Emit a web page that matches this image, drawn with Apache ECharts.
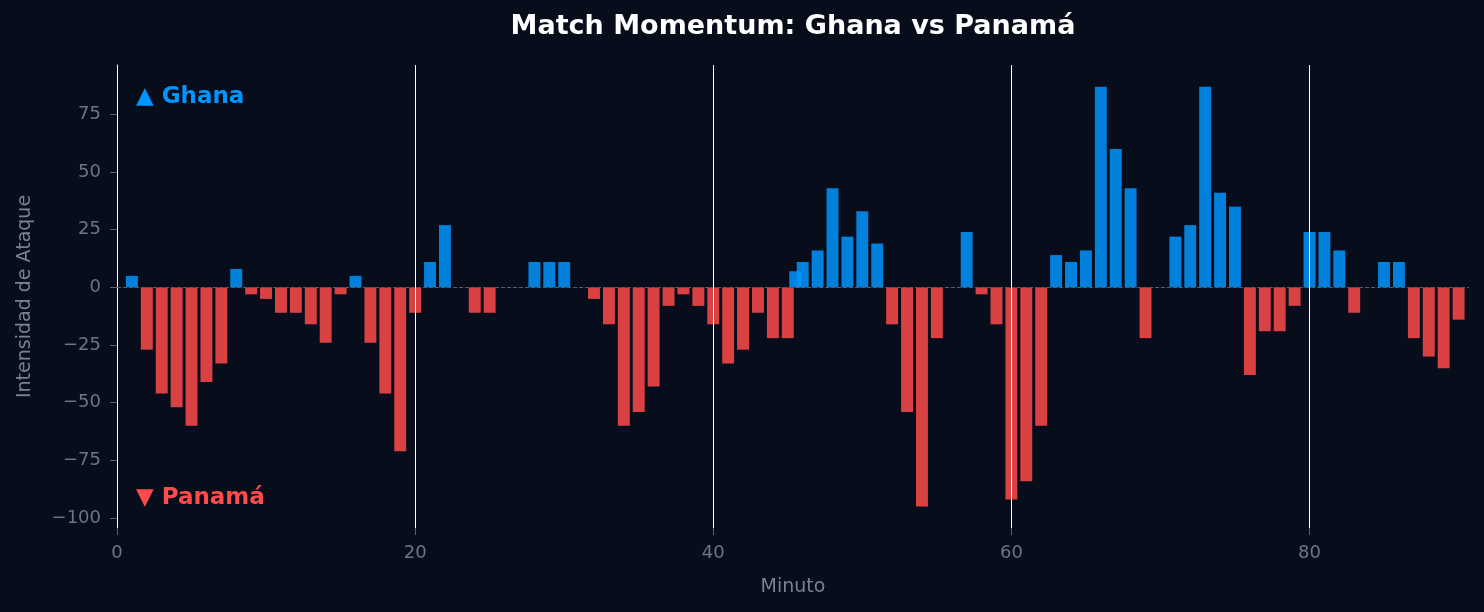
<!DOCTYPE html>
<html>
<head>
<meta charset="utf-8">
<script src="https://cdn.jsdelivr.net/npm/echarts@6/dist/echarts.min.js"></script>
<style>
html,body{margin:0;padding:0;background:#070d1a;}
#chart{width:1484px;height:612px;}
</style>
</head>
<body>
<div id="chart"></div>
<script>
const minutes = [1,2,3,4,5,6,7,8,9,10,11,12,13,14,15,16,17,18,19,20,21,22,23,24,25,26,27,28,29,30,31,32,33,34,35,36,37,38,39,40,41,42,43,44,45,45.5,46,47,48,49,50,51,52,53,54,55,56,57,58,59,60,61,62,63,64,65,66,67,68,69,70,71,72,73,74,75,76,77,78,79,80,81,82,83,84,85,86,87,88,89,90];
const momentum = [5,-27,-46,-52,-60,-41,-33,8,-3,-5,
  -11,-11,-16,-24,-3,5,-24,-46,-71,-11,
  11,27,0,-11,-11,0,0,11,11,11,
  0,-5,-16,-60,-54,-43,-8,-3,-8,-16,
  -33,-27,-11,-22,-22,7,
  11,16,43,22,33,
  19,-16,-54,-95,-22,0,24,-3,-16,-92,
  -84,-60,14,11,16,87,60,43,-22,0,
  22,27,87,41,35,-38,-19,-19,-8,24,
  24,16,-11,0,11,11,-22,-30,-35,-14];
const xTicks = [0,20,40,60,80];
const yTicks = [-100,-75,-50,-25,0,25,50,75];
const quarterLines = [20,40,60,80];
const titleText = 'Match Momentum: Ghana vs Panamá';
const homeLabel = '▲ Ghana';
const awayLabel = '▼ Panamá';

const BLUE = 'rgba(0,150,255,0.85)';
const RED = 'rgba(255,75,75,0.85)';
const FONT = 'DejaVu Sans';

const chart = echarts.init(document.getElementById('chart'));
const data = minutes.map((m, i) => [m, momentum[i]]);

chart.setOption({
  backgroundColor: '#070d1a',
  animation: false,
  textStyle: { fontFamily: FONT },
  grid: { left: 117, right: 15, top: 65, bottom: 84, containLabel: false },
  graphic: [
    { type: 'text', x: 793, y: 27, style: { text: titleText, fill: '#ffffff', font: 'bold 27px "DejaVu Sans"', textAlign: 'center', textVerticalAlign: 'middle' } },
    { type: 'text', x: 136, y: 97, style: { text: homeLabel, fill: '#0096ff', font: 'bold 23px "DejaVu Sans"', textAlign: 'left', textVerticalAlign: 'middle' } },
    { type: 'text', x: 136, y: 498, style: { text: awayLabel, fill: '#ff4b4b', font: 'bold 23px "DejaVu Sans"', textAlign: 'left', textVerticalAlign: 'middle' } }
  ],
  xAxis: {
    type: 'value', min: 0, max: 90.7,
    name: 'Minuto', nameLocation: 'middle', nameGap: 50,
    nameTextStyle: { color: '#7a808c', fontSize: 19, fontFamily: FONT },
    axisLine: { show: false, onZero: false },
    axisTick: { show: true, length: 7, lineStyle: { color: '#5a606c', width: 1 }, customValues: xTicks },
    axisLabel: { color: '#6e7481', fontSize: 18, fontFamily: FONT, margin: 16, customValues: xTicks },
    splitLine: { show: false }
  },
  yAxis: {
    type: 'value', min: -104.3, max: 96.4,
    name: 'Intensidad de Ataque', nameLocation: 'middle', nameGap: 82,
    nameTextStyle: { color: '#7a808c', fontSize: 19, fontFamily: FONT },
    axisLine: { show: true, lineStyle: { color: '#ffffff', width: 1 } },
    axisTick: { show: true, length: 7, lineStyle: { color: '#5a606c', width: 1 }, customValues: yTicks },
    axisLabel: { color: '#6e7481', fontSize: 18, fontFamily: FONT, margin: 16, customValues: yTicks,
      formatter: v => String(v).replace('-', '\u2212') },
    splitLine: { show: false }
  },
  series: [
    {
      type: 'line', data: [], z: 1, silent: true,
      markLine: {
        silent: true, symbol: 'none', label: { show: false },
        lineStyle: { color: '#555c68', width: 1, type: [4, 2] },
        data: [{ yAxis: 0 }]
      }
    },
    {
      type: 'custom', z: 2, silent: true,
      data: data,
      encode: { x: 0, y: 1 },
      renderItem: function (params, api) {
        const x = api.value(0), y = api.value(1);
        const p0 = api.coord([x - 0.4, 0]);
        const p1 = api.coord([x + 0.4, y]);
        return {
          type: 'rect',
          shape: { x: p0[0], y: Math.min(p0[1], p1[1]), width: p1[0] - p0[0], height: Math.abs(p1[1] - p0[1]) },
          style: { fill: y >= 0 ? BLUE : RED }
        };
      }
    },
    {
      type: 'line', data: [], z: 5, silent: true,
      markLine: {
        silent: true, symbol: 'none', label: { show: false },
        lineStyle: { color: '#ffffff', width: 1, type: 'solid' },
        data: quarterLines.map(v => ({ xAxis: v }))
      }
    }
  ]
});
</script>
</body>
</html>
